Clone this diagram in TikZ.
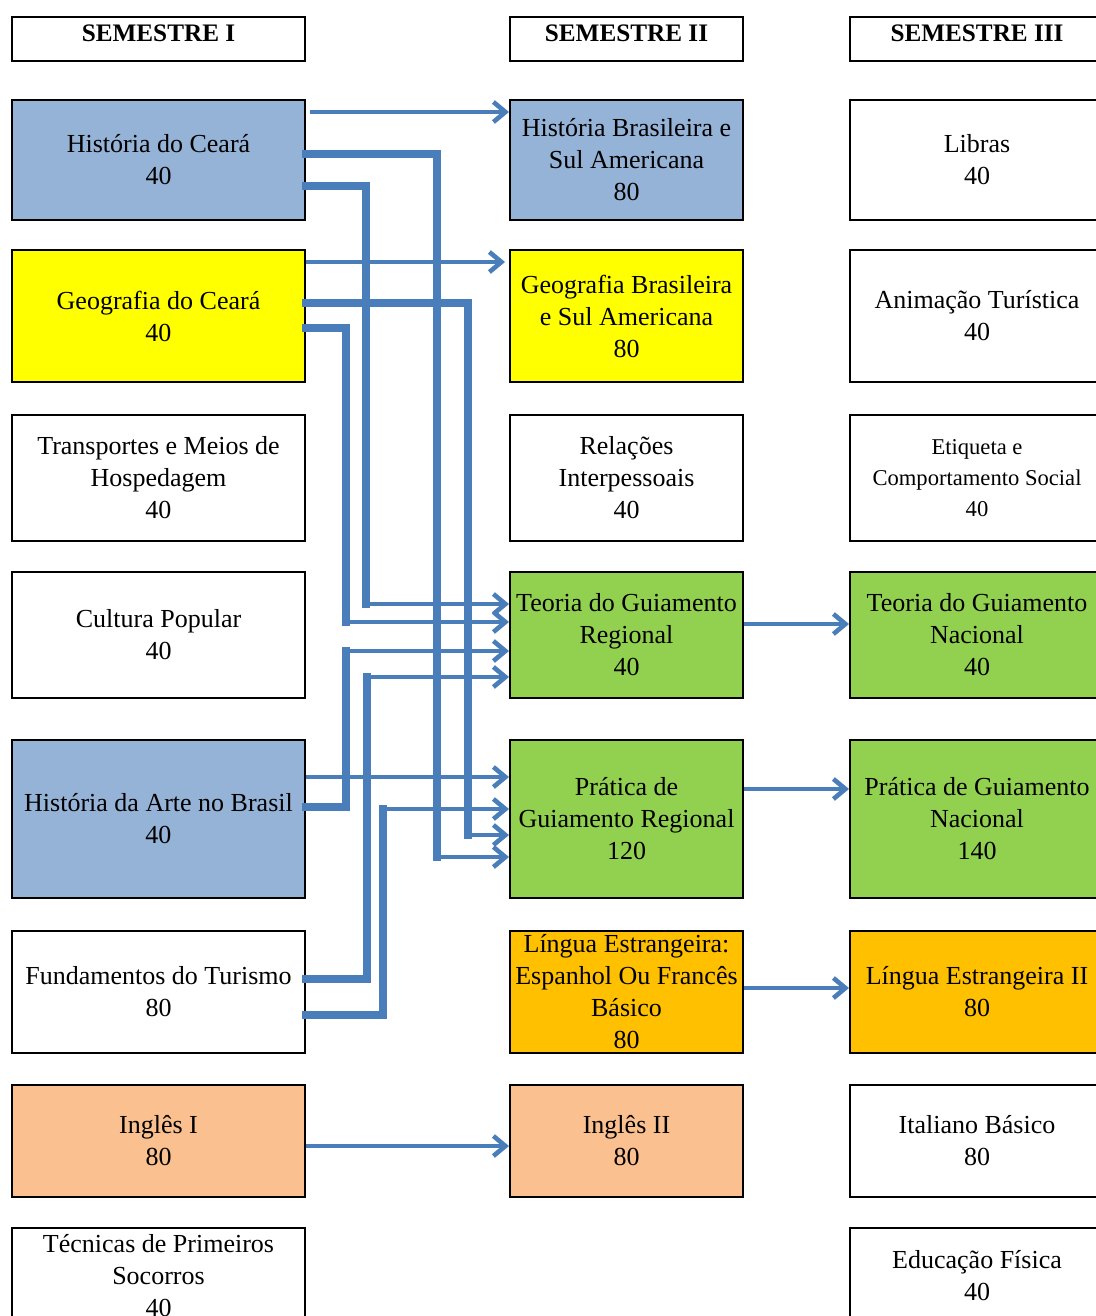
\documentclass[tikz,border=0pt]{standalone}
\usepackage{fontspec}
\setmainfont{Liberation Serif}
\usetikzlibrary{arrows.meta,calc}
\definecolor{cblue}{HTML}{95B3D7}
\definecolor{cyellow}{HTML}{FFFF00}
\definecolor{cgreen}{HTML}{92D050}
\definecolor{corange}{HTML}{FFC000}
\definecolor{cpeach}{HTML}{FAC090}
\definecolor{carrow}{HTML}{4A7EBB}
\begin{document}
\begin{tikzpicture}[x=0.5pt,y=-0.5pt,
  box/.style={draw=black,line width=1pt,inner sep=0pt,align=center,
    font=\fontsize{13}{16}\selectfont},
  hdr/.style={minimum height=22pt,text depth=6.3pt,font=\fontsize{12.6}{16}\selectfont\bfseries},
  cA/.style={box,minimum width=146.5pt},
  cB/.style={box,minimum width=116.5pt},
  cC/.style={box,minimum width=127pt},
  rA/.style={minimum height=60pt},
  rB/.style={minimum height=66pt},
  rC/.style={minimum height=63pt},
  rD/.style={minimum height=79pt},
  rE/.style={minimum height=61pt},
  rF/.style={minimum height=56pt},
  rG/.style={minimum height=48pt},
  thinarr/.style={draw=carrow,line width=2.3pt,-{Straight Barb[length=6pt,width=10pt]}},
  thickln/.style={draw=carrow,line width=4pt,line cap=rect}]
\useasboundingbox (0,0) rectangle (1096,1316);
\clip (0,0) rectangle (1096,1316);
% headers
\node[cA,hdr] (s1) at (158.5,39) {SEMESTRE I};
\node[cB,hdr] (s2) at (626.5,39) {SEMESTRE II};
\node[cC,hdr] (s3) at (977,39) {SEMESTRE III};
% column 1
\node[cA,rA,fill=cblue] (hc) at (158.5,160) {História do Ceará\\40};
\node[cA,rB,fill=cyellow] (gc) at (158.5,316) {Geografia do Ceará\\40};
\node[cA,rC] (tm) at (158.5,478) {Transportes e Meios de\\Hospedagem\\40};
\node[cA,rC] (cp) at (158.5,635) {Cultura Popular\\40};
\node[cA,rD,fill=cblue] (ha) at (158.5,819) {História da Arte no Brasil\\40};
\node[cA,rE] (ft) at (158.5,992) {Fundamentos do Turismo\\80};
\node[cA,rF,fill=cpeach] (i1) at (158.5,1141) {Inglês I\\80};
\node[cA,rG] (tps) at (158.5,1276) {Técnicas de Primeiros\\Socorros\\40};
% column 2
\node[cB,rA,fill=cblue] (hbs) at (626.5,160) {História Brasileira e\\Sul Americana\\80};
\node[cB,rB,fill=cyellow] (gbs) at (626.5,316) {Geografia Brasileira\\e Sul Americana\\80};
\node[cB,rC] (ri) at (626.5,478) {Relações\\Interpessoais\\40};
\node[cB,rC,fill=cgreen] (tgr) at (626.5,635) {Teoria do Guiamento\\Regional\\40};
\node[cB,rD,fill=cgreen] (pgr) at (626.5,819) {Prática de\\Guiamento Regional\\120};
\node[cB,rE,fill=corange] (le) at (626.5,992) {Língua Estrangeira:\\Espanhol Ou Francês\\Básico\\80};
\node[cB,rF,fill=cpeach] (i2) at (626.5,1141) {Inglês II\\80};
% column 3
\node[cC,rA] (lib) at (977,160) {Libras\\40};
\node[cC,rB] (at) at (977,316) {Animação Turística\\40};
\node[cC,rC,font=\fontsize{11.3}{15.5}\selectfont] (ecs) at (977,478) {Etiqueta e\\Comportamento Social\\40};
\node[cC,rC,fill=cgreen] (tgn) at (977,635) {Teoria do Guiamento\\Nacional\\40};
\node[cC,rD,fill=cgreen] (pgn) at (977,819) {Prática de Guiamento\\Nacional\\140};
\node[cC,rE,fill=corange] (le2) at (977,992) {Língua Estrangeira II\\80};
\node[cC,rF] (ib) at (977,1141) {Italiano Básico\\80};
\node[cC,rG] (ef) at (977,1276) {Educação Física\\40};
% corner points of the routed connectors
\coordinate (ka) at ($(pgr.north west)+(-72,118)$);
\coordinate (kb) at ($(tgr.north west)+(-143,33)$);
\coordinate (kc) at ($(pgr.north west)+(-41,96)$);
\coordinate (kd) at ($(tgr.north west)+(-163,51)$);
\coordinate (ke) at ($(tgr.north west)+(-163,80)$);
\coordinate (kf) at ($(tgr.north west)+(-142,106)$);
\coordinate (kg) at ($(pgr.north west)+(-126,70)$);
% thick routed parts
\draw[thickln] ($(hc.north east)+(0,55)$) -| (ka);
\draw[thickln] ($(hc.north east)+(0,87)$) -| (kb);
\draw[thickln] ($(gc.north east)+(0,54)$) -| (kc);
\draw[thickln] ($(gc.north east)+(0,79)$) -| (kd);
\draw[thickln] ($(ha.north east)+(0,68)$) -| (ke);
\draw[thickln] ($(ft.north east)+(0,49)$) -| (kf);
\draw[thickln] ($(ft.north east)+(0,85)$) -| (kg);
% thin arrow parts
\draw[thinarr] (ka) -- (pgr.west |- ka);
\draw[thinarr] (kb) -- (tgr.west |- kb);
\draw[thinarr] (kc) -- (pgr.west |- kc);
\draw[thinarr] (kd) -- (tgr.west |- kd);
\draw[thinarr] (ke) -- (tgr.west |- ke);
\draw[thinarr] (kf) -- (tgr.west |- kf);
\draw[thinarr] (kg) -- (pgr.west |- kg);
% direct arrows
\draw[thinarr] ($(hc.north east)+(4,13)$) -- ($(hbs.north west)+(0,13)$);
\draw[thinarr] ($(gc.north east)+(0,13)$) -- ($(gbs.north west)+(-4,13)$);
\draw[thinarr] ($(ha.north east)+(0,38)$) -- ($(pgr.north west)+(0,38)$);
\draw[thinarr] ($(tgr.north east)+(0,53)$) -- ($(tgn.north west)+(0,53)$);
\draw[thinarr] ($(pgr.north east)+(0,50)$) -- ($(pgn.north west)+(0,50)$);
\draw[thinarr] ($(le.north east)+(0,58)$) -- ($(le2.north west)+(0,58)$);
\draw[thinarr] ($(i1.north east)+(0,62)$) -- ($(i2.north west)+(0,62)$);
\end{tikzpicture}
\end{document}
